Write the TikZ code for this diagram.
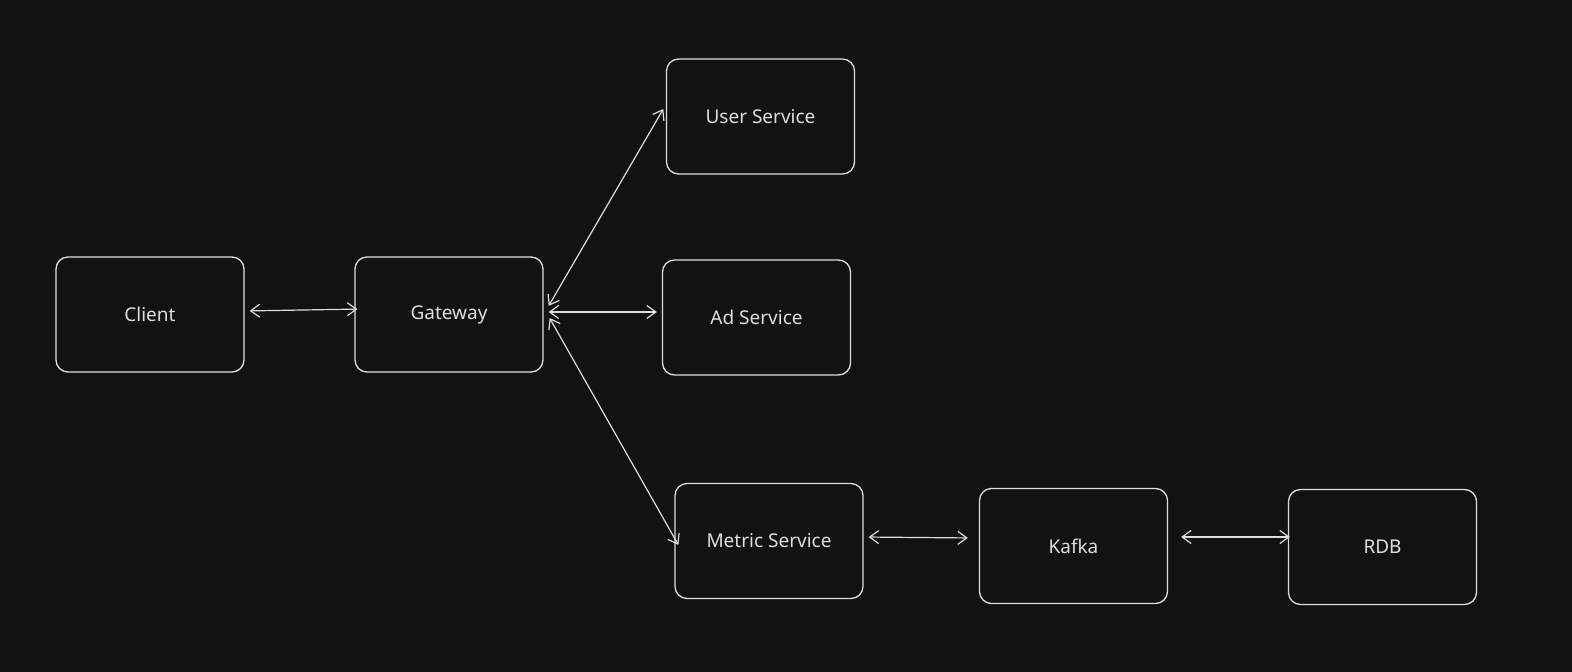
\documentclass[tikz,border=0pt]{standalone}
\usepackage{fontspec}
\setmainfont{Noto Sans}
\usetikzlibrary{arrows.meta}
\definecolor{bgdark}{RGB}{18,18,18}
\definecolor{inkgray}{RGB}{222,222,222}

\begin{document}
\begin{tikzpicture}[x=0.5pt,y=0.5pt,yscale=-1,xscale=1,
  svcbox/.style={draw=inkgray,line width=0.65pt,rounded corners=6pt,fill=bgdark,
    minimum width=94pt,minimum height=57.5pt,inner sep=0pt,
    text=inkgray,font=\fontsize{9.5}{11}\selectfont},
  link/.style={draw=inkgray,line width=0.6pt,
    {Straight Barb[length=4.5pt,width=6.5pt]}-{Straight Barb[length=4.5pt,width=6.5pt]},
    shorten <=2.5pt,shorten >=2.5pt}]
%set diagram size to the reference
\fill [bgdark] (0,0) rectangle (1572,672);
\useasboundingbox (0,0) rectangle (1572,672);

%Shape: Rectangle [client]
\node [svcbox] (client) at (150,314.5) {Client};
%Shape: Rectangle [gateway]
\node [svcbox] (gateway) at (449,314.5) {Gateway};
%Shape: Rectangle [user]
\node [svcbox] (user) at (760.5,116.5) {User Service};
%Shape: Rectangle [ad]
\node [svcbox] (ad) at (756.5,317.5) {Ad Service};
%Shape: Rectangle [metric]
\node [svcbox] (metric) at (769,541) {Metric Service};
%Shape: Rectangle [kafka]
\node [svcbox] (kafka) at (1073.5,546) {Kafka};
%Shape: Rectangle [rdb]
\node [svcbox] (rdb) at (1382.5,547) {RDB};

%Straight Lines
\draw [link] ([yshift=-1.75pt]client.east) -- ([xshift=4pt,yshift=-2.75pt]gateway.west);
%Straight Lines
\draw [link,shorten <=5pt] (gateway.east) -- ([yshift=-5.9pt]user.west);
%Straight Lines
\draw [link] ([yshift=-1.25pt]gateway.east) -- ([yshift=-2.75pt]ad.west);
%Straight Lines
\draw [link] ([xshift=1.75pt,yshift=-0.4pt]gateway.east) -- ([xshift=3.25pt,yshift=4.15pt]metric.west);
%Straight Lines
\draw [link] ([yshift=-2pt]metric.east) -- ([xshift=-3pt,yshift=-4pt]kafka.west);
%Straight Lines
\draw [link] ([xshift=4pt,yshift=-4.5pt]kafka.east) -- ([xshift=3.5pt,yshift=-5pt]rdb.west);

\end{tikzpicture}
\end{document}
